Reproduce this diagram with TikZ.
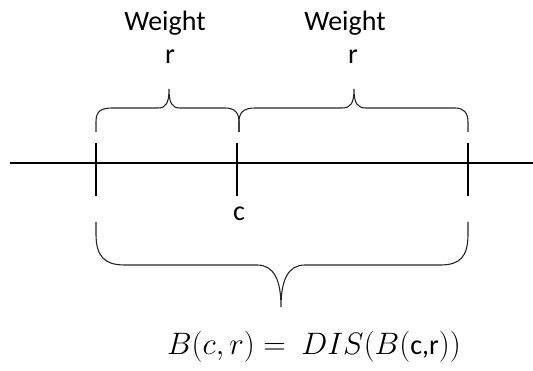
\RequirePackage{fix-cm}
\documentclass[tikz,border=0pt]{standalone}
\usepackage{fontspec}
\setmainfont{Carlito}
\begin{document}
\begin{tikzpicture}[x=1pt,y=-1pt,
  ln/.style={line width=1.2pt,black},
  br/.style={line width=1.1pt,black!85},
  lbl/.style={font=\fontsize{28}{30}\selectfont,inner sep=0pt,anchor=base},
  formula/.style={font=\fontsize{31}{34}\selectfont,inner sep=0pt,anchor=base}]
\useasboundingbox (0,0) rectangle (533,371);
% axis
\coordinate (axL) at (10,163);
\coordinate (axR) at (533,163);
\draw[ln] (axL) -- (axR);
% ticks
\coordinate (t1a) at (96,143);  \coordinate (t1b) at (96,196);
\coordinate (t2a) at (237,143); \coordinate (t2b) at (237,196);
\coordinate (t3a) at (468,143); \coordinate (t3b) at (468,196);
\draw[ln] (t1a) -- (t1b);
\draw[ln] (t2a) -- (t2b);
\draw[ln] (t3a) -- (t3b);
% upper left brace
\draw[br] (96,132) -- (96,122) .. controls (96,112) and (100,108) .. (112,108)
  -- (158,108) .. controls (166,108) and (169,103) .. (169,89)
  .. controls (169,103) and (172,108) .. (180,108)
  -- (225,108) .. controls (235,108) and (239,113) .. (239,122) -- (239,132);
% upper right brace
\draw[br] (239,132) -- (239,122) .. controls (239,113) and (243,108) .. (255,108)
  -- (342,108) .. controls (351,108) and (354,103) .. (354,89)
  .. controls (354,103) and (357,108) .. (366,108)
  -- (455,108) .. controls (464,108) and (468,113) .. (468,122) -- (468,132);
% lower brace
\draw[br] (96,222) -- (96,234) .. controls (96,257) and (105,265) .. (125,265)
  -- (257,265) .. controls (274,265) and (281,280) .. (281,307)
  .. controls (281,280) and (288,265) .. (305,265)
  -- (440,265) .. controls (460,265) and (468,257) .. (468,234) -- (468,222);
% labels
\node[lbl] (w1) at (165,31) {Weight};
\node[lbl] (w2) at (345,31) {Weight};
\node[lbl] (r1) at (170,64) {r};
\node[lbl] (r2) at (353,64) {r};
\node[lbl] (c) at (239,221) {c};
\node[formula] (f) at (314,355) {$B(c,r) =\ DIS(B(\textnormal{\fontsize{28}{30}\selectfont c,r}))$};
\end{tikzpicture}
\end{document}
